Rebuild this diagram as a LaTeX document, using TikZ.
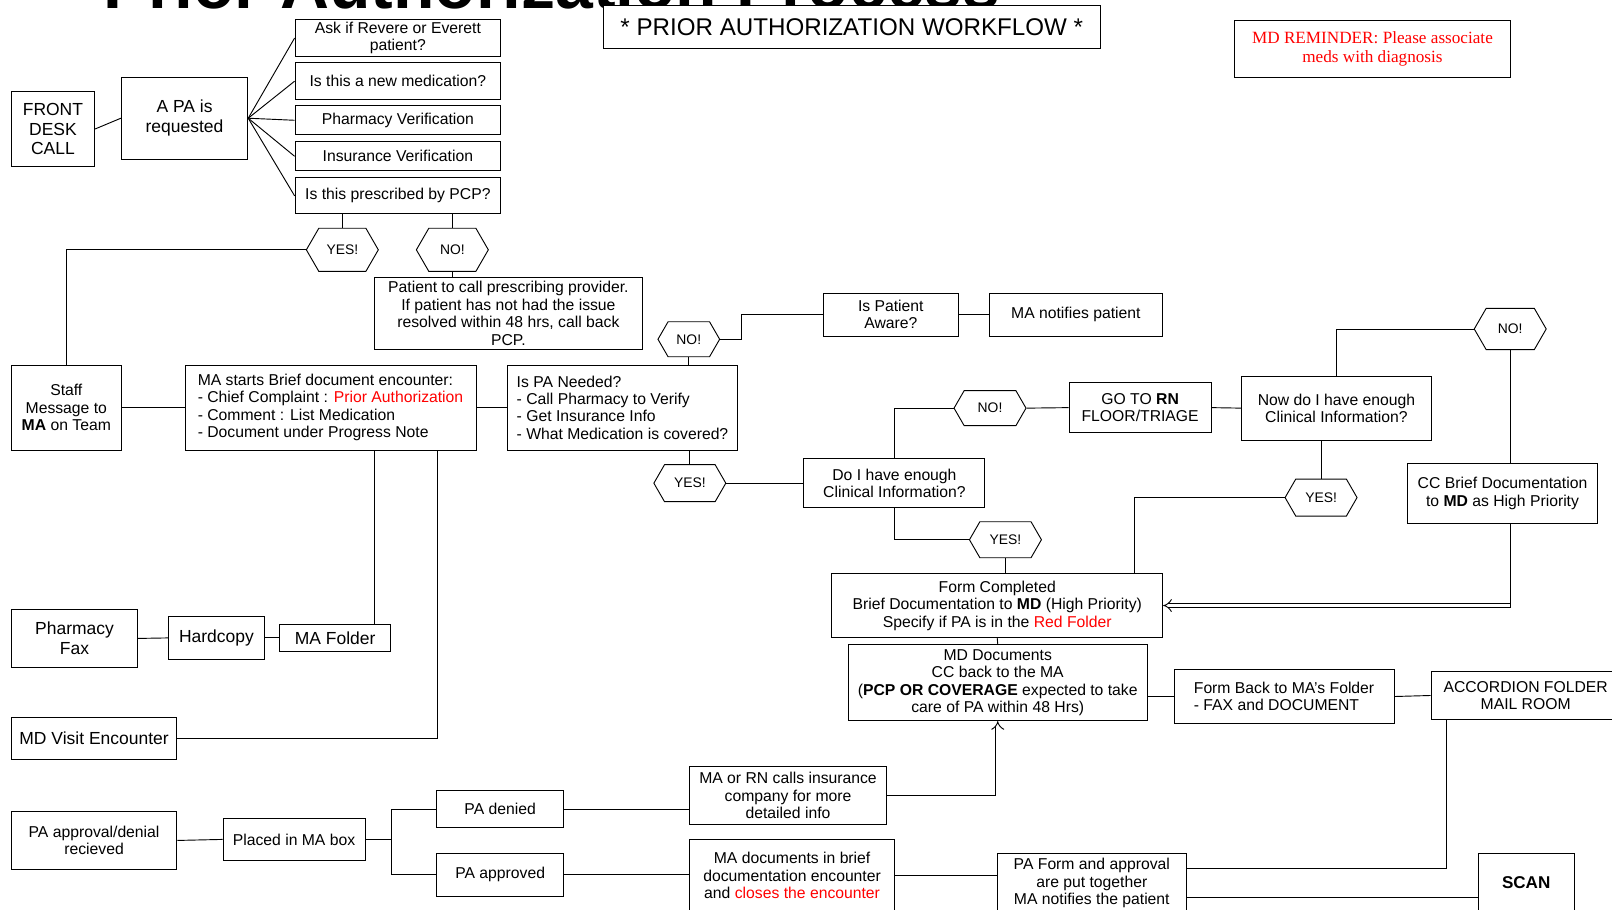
\documentclass[tikz,border=0pt]{standalone}
\usepackage{fontspec}
\setmainfont{Liberation Sans}
\newfontfamily\remfont{Liberation Serif}
\usetikzlibrary{shapes.symbols,arrows.meta}

\tikzset{
  box/.style={draw, line width=0.9pt, align=center, inner sep=2pt, font=\fontsize{15.3}{17}\selectfont},
  bigbox/.style={box, font=\fontsize{17}{19}\selectfont},
  hexa/.style={draw, line width=0.9pt, signal, signal to=east and west, signal pointer angle=120,
    minimum width=70pt, minimum height=36pt, inner sep=0pt, font=\fontsize{13.5}{15}\selectfont},
  link/.style={line width=0.9pt},
  dblarrow/.style={draw=black, double=white, double distance=3.5pt, line width=0.9pt, -{Implies[scale=1.4]}}
}

\begin{document}
\begin{tikzpicture}[x=1pt, y=-1pt]

\fill[white] (0,0) rectangle (1568,885);
\useasboundingbox (0,0) rectangle (1568,885);

% headings
\node[anchor=base west, inner sep=0pt, font=\fontsize{66}{70}\selectfont\bfseries] (title) at (100,8) {Prior Authorization Process};
\node[box, fill=white, font=\fontsize{23.5}{26}\selectfont, minimum width=483pt, minimum height=42pt] (workflow) at (828.5,26) {* PRIOR AUTHORIZATION WORKFLOW *};
\node[box, text=red, font=\remfont\fontsize{16.7}{19}\selectfont, minimum width=268pt, minimum height=55pt] (reminder) at (1335,47.5) {MD REMINDER: Please associate\\meds with diagnosis};

% intake
\node[bigbox, minimum width=81pt, minimum height=73pt] (front) at (51.5,125.5) {FRONT\\DESK\\CALL};
\node[bigbox, minimum width=123pt, minimum height=80pt] (pa) at (179.5,115) {A PA is\\requested};
\node[box, minimum width=200pt, minimum height=34pt] (ask) at (387,37) {Ask if Revere or Everett\\patient?};
\node[box, minimum width=200pt, minimum height=36pt] (newmed) at (387,79) {Is this a new medication?};
\node[box, minimum width=200pt, minimum height=28pt] (pharm) at (387,117) {Pharmacy Verification};
\node[box, minimum width=200pt, minimum height=28pt] (insur) at (387,152) {Insurance Verification};
\node[box, minimum width=200pt, minimum height=35pt] (pcp) at (387,190.5) {Is this prescribed by PCP?};
\node[hexa, minimum height=42pt] (yes1) at (333,243) {YES!};
\node[hexa, minimum height=42pt] (no1) at (440,243) {NO!};
\node[box, minimum width=261pt, minimum height=70pt] (patient) at (494.5,305) {Patient to call prescribing provider.\\If patient has not had the issue\\resolved within 48 hrs, call back\\PCP.};

% encounter
\node[box, minimum width=107pt, minimum height=83pt] (staff) at (64.5,396.5) {Staff\\Message to\\\textbf{MA} on Team};
\node[box, align=left, minimum width=283pt, minimum height=83pt] (mastart) at (321.5,396.5) {MA starts Brief document encounter:\\- Chief Complaint : \textcolor{red}{Prior Authorization}\\- Comment : List Medication\\- Document under Progress Note};
\node[box, align=left, minimum width=223pt, minimum height=83pt] (ispa) at (605.5,396.5) {Is PA Needed?\\- Call Pharmacy to Verify\\- Get Insurance Info\\- What Medication is covered?};
\node[hexa, minimum width=60pt, minimum height=34pt] (no2) at (670,330) {NO!};
\node[box, minimum width=131pt, minimum height=42pt] (aware) at (866.5,306) {Is Patient\\Aware?};
\node[box, minimum width=169pt, minimum height=42pt] (notify) at (1046.5,306) {MA notifies patient};
\node[hexa] (yes2) at (671,470) {YES!};
\node[box, minimum width=176pt, minimum height=48pt] (enough) at (870,470) {Do I have enough\\Clinical Information?};
\node[hexa, minimum height=34pt] (no3) at (963,397) {NO!};
\node[box, minimum width=138pt, minimum height=49pt] (rn) at (1109,396.5) {GO TO \textbf{RN}\\FLOOR/TRIAGE};
\node[box, minimum width=184pt, minimum height=62pt] (now) at (1300,397) {Now do I have enough\\Clinical Information?};
\node[hexa, minimum height=40pt] (no4) at (1469,320) {NO!};
\node[box, minimum width=185pt, minimum height=58pt] (cc) at (1461.5,480) {CC Brief Documentation\\to \textbf{MD} as High Priority};
\node[hexa] (yes5) at (1285,484) {YES!};
\node[hexa, minimum height=35pt] (yes6) at (978,525) {YES!};
\node[box, minimum width=322pt, minimum height=62pt] (form) at (970,589) {Form Completed\\Brief Documentation to \textbf{MD} (High Priority)\\Specify if PA is in the \textcolor{red}{Red Folder}};
\node[box, minimum width=291pt, minimum height=74pt] (mddoc) at (970.5,664) {MD Documents\\CC back to the MA\\(\textbf{PCP OR COVERAGE} expected to take\\care of PA within 48 Hrs)};
\node[box, align=left, minimum width=214pt, minimum height=53pt] (formback) at (1249,677.5) {Form Back to MA’s Folder\\- FAX and DOCUMENT};
\node[box, minimum width=184pt, minimum height=47pt] (accord) at (1484,676.5) {ACCORDION FOLDER\\MAIL ROOM};

% paper side
\node[bigbox, minimum width=123pt, minimum height=56pt] (pharmfax) at (72.5,621) {Pharmacy\\Fax};
\node[bigbox, minimum width=93pt, minimum height=41pt] (hardcopy) at (210.5,620.5) {Hardcopy};
\node[bigbox, minimum width=108pt, minimum height=27pt] (mafolder) at (326,620.5) {MA Folder};
\node[bigbox, minimum width=161pt, minimum height=41pt] (mdvisit) at (91.5,718.5) {MD Visit Encounter};

% outcome
\node[box, minimum width=161pt, minimum height=57pt] (parecv) at (91.5,817.5) {PA approval/denial\\recieved};
\node[box, minimum width=138pt, minimum height=41pt] (placed) at (286,816.5) {Placed in MA box};
\node[box, minimum width=123pt, minimum height=36pt] (padenied) at (486.5,787) {PA denied};
\node[box, minimum width=123pt, minimum height=42pt] (paapproved) at (486.5,851) {PA approved};
\node[box, minimum width=191pt, minimum height=56pt] (marn) at (766.5,774) {MA or RN calls insurance\\company for more\\detailed info};
\node[box, minimum width=199pt, minimum height=69pt] (madoc) at (770.5,851.5) {MA documents in brief\\documentation encounter\\and \textcolor{red}{closes the encounter}};
\node[box, minimum width=184pt, minimum height=58pt] (paform) at (1062,859) {PA Form and approval\\are put together\\MA notifies the patient};
\node[bigbox, font=\fontsize{16.6}{19}\selectfont\bfseries, minimum width=93pt, minimum height=58pt] (scan) at (1484.5,859) {SCAN};

% connectors
\draw[link] (front.east) -- (pa.west);
\foreach \q in {ask,newmed,pharm,insur,pcp}
  \draw[link] (pa.east) -- (\q.west);
\draw[link] (yes1.north) -- (yes1.north |- pcp.south);
\draw[link] (no1.north) -- (no1.north |- pcp.south);
\draw[link] (yes1.west) -| (staff.north);
\draw[link] (no1.south) -- (no1.south |- patient.north);
\draw[link] (staff.east) -- (mastart.west);
\draw[link] (mastart.east) -- (ispa.west);
\draw[link] (no2.south) -- (no2.south |- ispa.north);
\draw[link] (no2.east) -- ++(21,0) |- (aware.west);
\draw[link] (aware.east) -- (notify.west);
\draw[link] (yes2.north) -- (yes2.north |- ispa.south);
\draw[link] (yes2.east) -- (enough.west);
\draw[link] (enough.north) |- (no3.west);
\draw[link] (no3.east) -- (rn.west);
\draw[link] (rn.east) -- (now.west);
\draw[link] (now.north) |- (no4.west);
\draw[link] (no4.south) -- (no4.south |- cc.north);
\draw[link] (no4.south |- cc.south) -- ([yshift=-2.2pt]no4.south |- form.east);
\draw[dblarrow] (no4.south |- form.east) -- (form.east);
\draw[link] (yes5.north) -- (yes5.north |- now.south);
\draw[link] (yes5.west) -| ([xshift=133pt]form.north);
\draw[link] (enough.south) |- (yes6.west);
\draw[link] (yes6.south) -- (yes6.south |- form.north);
\draw[link] (form.south) -- (mddoc.north);
\draw[link] (formback.west -| mddoc.east) -- (formback.west);
\draw[link] (formback.east) -- (accord.west);
\draw[link] ([yshift=14pt]paform.east) -| ([xshift=15pt]accord.south west);
\draw[link] ([yshift=-14pt]paform.east) -- ([yshift=-14pt]paform.east -| scan.west);
\draw[link] (pharmfax.east) -- (hardcopy.west);
\draw[link] (hardcopy.east) -- (mafolder.west);
\draw[link] ([xshift=38pt]mafolder.north) -- ([xshift=38pt]mafolder.north |- mastart.south);
\draw[link] (mdvisit.east) -| ([xshift=104.5pt]mastart.south);
\draw[link] (parecv.east) -- (placed.west);
\draw[link] (placed.east) -- ++(25,0);
\draw[link] (padenied.west) -| ([xshift=25pt]placed.east) |- (paapproved.west);
\draw[link] (padenied.east) -- (padenied.east -| marn.west);
\draw[link] (paapproved.east) -- (paapproved.east -| madoc.west);
\draw[link] (marn.east) -- ([xshift=2.2pt]marn.east -| mddoc.south);
\draw[dblarrow] (marn.east -| mddoc.south) -- (mddoc.south);
\draw[link] (madoc.east) -- (madoc.east -| paform.west);

\end{tikzpicture}
\end{document}
